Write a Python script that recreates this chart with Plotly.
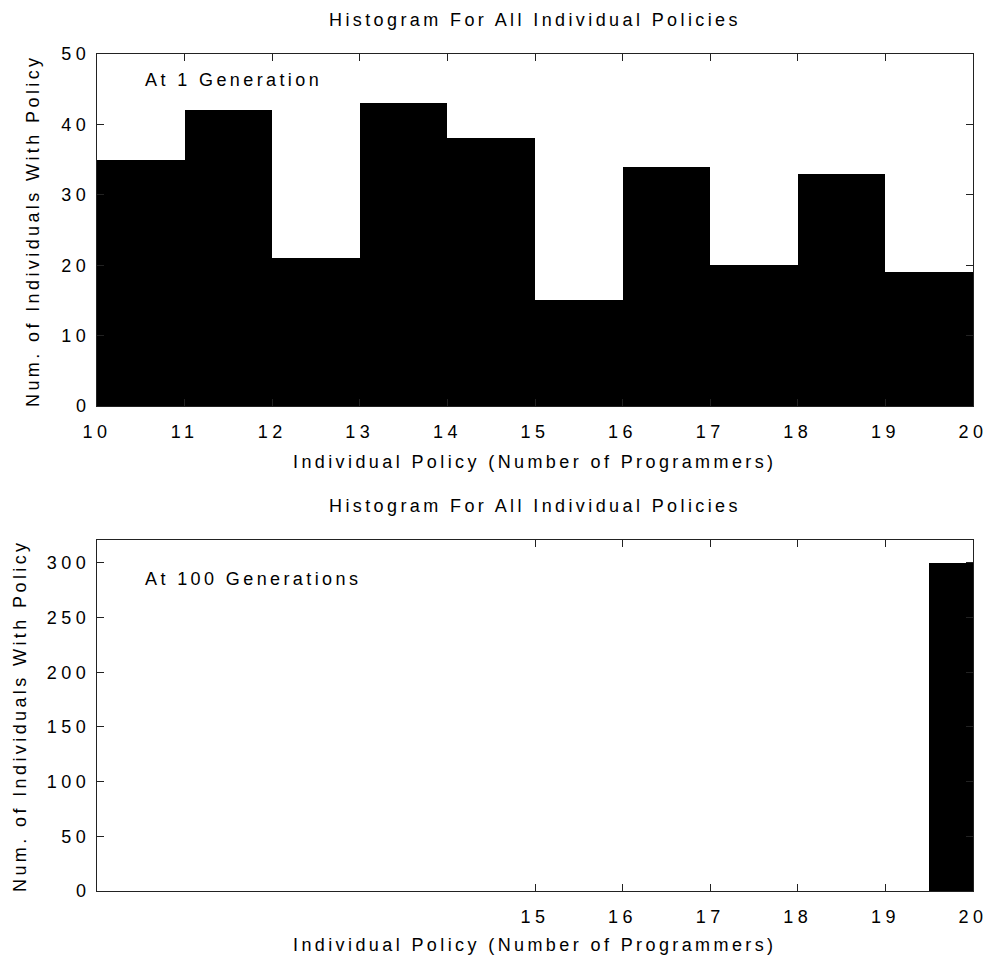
import plotly.graph_objects as go

# Histogram counts of individual policies (number of programmers)
policy_bins_gen1 = [10, 11, 12, 13, 14, 15, 16, 17, 18, 19]
counts_gen1 = [35, 42, 21, 43, 38, 15, 34, 20, 33, 19]

# After 100 generations every individual sits in the last bin
bin_left_gen100 = [19.5]
bin_right_gen100 = [20.05]
counts_gen100 = [300]

x_ticks_gen1 = [10, 11, 12, 13, 14, 15, 16, 17, 18, 19, 20]
y_ticks_gen1 = [0, 10, 20, 30, 40, 50]
x_ticks_gen100 = [15, 16, 17, 18, 19, 20]
y_ticks_gen100 = [0, 50, 100, 150, 200, 250, 300]

title_text = "Histogram For All Individual Policies"
x_title = "Individual Policy (Number of Programmers)"
y_title = "Num. of Individuals With Policy"
label_gen1 = "At 1 Generation"
label_gen100 = "At 100 Generations"

FONT = "Liberation Sans, Arial, Helvetica, sans-serif"
FS = 18
TEXT_SPACING = 3.4
TICK_SPACING = 4.5


def spaced(s, ls):
    return f'<span style="letter-spacing:{ls}px">{s}</span>'


def tick_labels(vals):
    return [spaced(str(v), TICK_SPACING) for v in vals]


fig = go.Figure()

fig.add_trace(go.Bar(
    x=[b + 0.5 for b in policy_bins_gen1], y=counts_gen1, width=1.0,
    marker=dict(color="black", line=dict(width=0)),
    xaxis="x", yaxis="y", showlegend=False, hoverinfo="skip",
))
fig.add_trace(go.Bar(
    x=[(l + r) / 2 for l, r in zip(bin_left_gen100, bin_right_gen100)],
    y=counts_gen100,
    width=[r - l for l, r in zip(bin_left_gen100, bin_right_gen100)],
    marker=dict(color="black", line=dict(width=0)),
    xaxis="x2", yaxis="y2", showlegend=False, cliponaxis=False,
    hoverinfo="skip",
))

axis_common = dict(
    showline=True, linecolor="#222222", linewidth=1, mirror="ticks",
    ticks="inside", ticklen=7, tickcolor="#222222", showgrid=False,
    zeroline=False, automargin=False,
    tickfont=dict(family=FONT, size=FS, color="black"),
)

fig.update_layout(
    width=991, height=960,
    margin=dict(l=0, r=0, t=0, b=0),
    paper_bgcolor="white", plot_bgcolor="white",
    bargap=0,
    xaxis=dict(domain=[97 / 991, 973 / 991], anchor="y", range=[10, 20],
               tickvals=x_ticks_gen1, ticktext=tick_labels(x_ticks_gen1),
               ticklabelstandoff=9, **axis_common),
    yaxis=dict(domain=[1 - 406 / 960, 1 - 54 / 960], anchor="x", range=[0, 50],
               tickvals=y_ticks_gen1, ticktext=tick_labels(y_ticks_gen1),
               ticklabelstandoff=2, **axis_common),
    xaxis2=dict(domain=[97 / 991, 973 / 991], anchor="y2", range=[10, 20],
                tickvals=x_ticks_gen100, ticktext=tick_labels(x_ticks_gen100),
                ticklabelstandoff=9, **axis_common),
    yaxis2=dict(domain=[1 - 891 / 960, 1 - 540 / 960], anchor="x2", range=[0, 321],
                tickvals=y_ticks_gen100, ticktext=tick_labels(y_ticks_gen100),
                ticklabelstandoff=2, **axis_common),
)


def paper_text(text, px, py, **kw):
    return dict(text=spaced(text, TEXT_SPACING), x=px / 991, y=1 - py / 960,
                xref="paper", yref="paper", showarrow=False,
                xanchor="center", yanchor="middle", **kw)


annotations = [
    paper_text(title_text, 535, 20),
    paper_text(title_text, 535, 506),
    paper_text(x_title, 535, 462),
    paper_text(x_title, 535, 945),
    paper_text(y_title, 33, 231, textangle=-90),
    paper_text(y_title, 20, 716, textangle=-90),
    dict(text=spaced(label_gen1, TEXT_SPACING), x=10.52, y=46.3,
         xref="x", yref="y", showarrow=False, xanchor="left",
         yanchor="middle", align="left"),
    dict(text=spaced(label_gen100, TEXT_SPACING), x=10.53, y=285,
         xref="x2", yref="y2", showarrow=False, xanchor="left",
         yanchor="middle", align="left"),
]
for a in annotations:
    a["font"] = dict(family=FONT, size=FS, color="black")
fig.update_layout(annotations=annotations)

fig.write_html("out.html")
